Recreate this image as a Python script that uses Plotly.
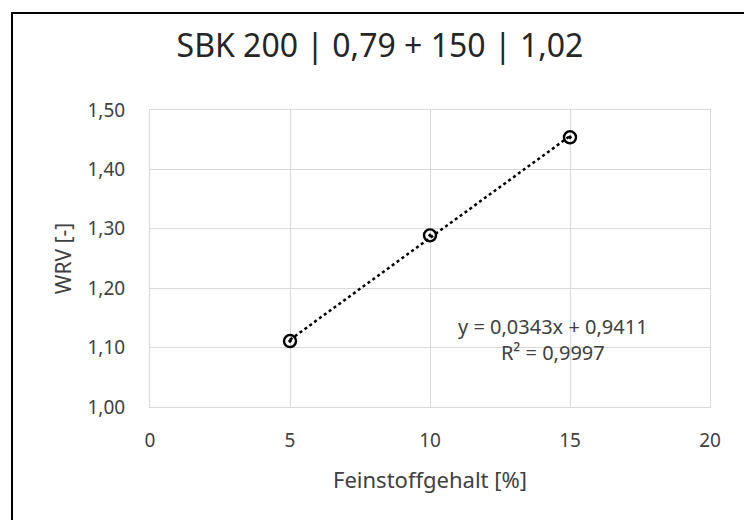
import numpy as np
import plotly.graph_objects as go

# Data
x_vals = [5, 10, 15]
y_vals = [1.111, 1.289, 1.454]
title_text = "SBK 200 | 0,79 + 150 | 1,02"
x_title = "Feinstoffgehalt [%]"
y_title = "WRV [-]"
eq_text = "y = 0,0343x + 0,9411<br>R² = 0,9997"
x_ticks = [0, 5, 10, 15, 20]
y_ticks = [1.0, 1.1, 1.2, 1.3, 1.4, 1.5]

slope, intercept = np.polyfit(x_vals, y_vals, 1)
trend_x = [min(x_vals), max(x_vals)]
trend_y = [slope * v + intercept for v in trend_x]

W, H = 744, 520
ml, mr, mt, mb = 150, 34, 110, 113
font = "Noto Sans, Open Sans, sans-serif"
grid = "#d9d9d9"
txt = "#404040"

fig = go.Figure()
fig.add_trace(go.Scatter(x=trend_x, y=trend_y, mode="lines",
                         line=dict(color="black", width=2.5, dash="dot"),
                         hoverinfo="skip", showlegend=False))
fig.add_trace(go.Scatter(x=x_vals, y=y_vals, mode="markers",
                         marker=dict(symbol="circle-open-dot", size=12, color="black",
                                     line=dict(color="black", width=2.4)),
                         showlegend=False))

fig.add_annotation(x=14.4, y=1.114, xref="x", yref="y", text=eq_text, showarrow=False,
                   align="center", font=dict(family=font, size=20, color=txt))

# outer chart border (left and top visible, right/bottom beyond view)
pw = W - ml - mr
ph = H - mt - mb
def px_to_paper_x(px):
    return (px - ml) / pw
def px_to_paper_y(py):
    return (H - mb - py) / ph
fig.add_shape(type="rect", xref="paper", yref="paper",
              x0=px_to_paper_x(12), x1=px_to_paper_x(760),
              y0=px_to_paper_y(540), y1=px_to_paper_y(13),
              line=dict(color="black", width=2), fillcolor="rgba(0,0,0,0)", layer="above")

fig.update_layout(
    width=W, height=H,
    margin=dict(l=ml, r=mr, t=mt, b=mb),
    paper_bgcolor="white", plot_bgcolor="white",
    separators=", ",
    title=dict(text=title_text, x=380 / W, xanchor="center", y=1 - 46 / H, yanchor="middle",
               font=dict(family=font, size=32, color="#262626")),
    xaxis=dict(range=[0, 20], tickvals=x_ticks, showgrid=True, gridcolor=grid, gridwidth=1,
               zeroline=False, showline=True, linecolor=grid, linewidth=1, mirror=True,
               ticks="", ticklabelstandoff=16,
               tickfont=dict(family=font, size=19, color=txt),
               title=dict(text=x_title, font=dict(family=font, size=22, color=txt), standoff=20)),
    yaxis=dict(range=[1.0, 1.5], tickvals=y_ticks, tickformat=".2f", showgrid=True, gridcolor=grid,
               gridwidth=1, zeroline=False, showline=True, linecolor=grid, linewidth=1, mirror=True,
               ticks="", ticklabelstandoff=20,
               tickfont=dict(family=font, size=19, color=txt),
               title=dict(text=y_title, font=dict(family=font, size=21, color=txt), standoff=10)),
)

fig.write_html("out.html")
